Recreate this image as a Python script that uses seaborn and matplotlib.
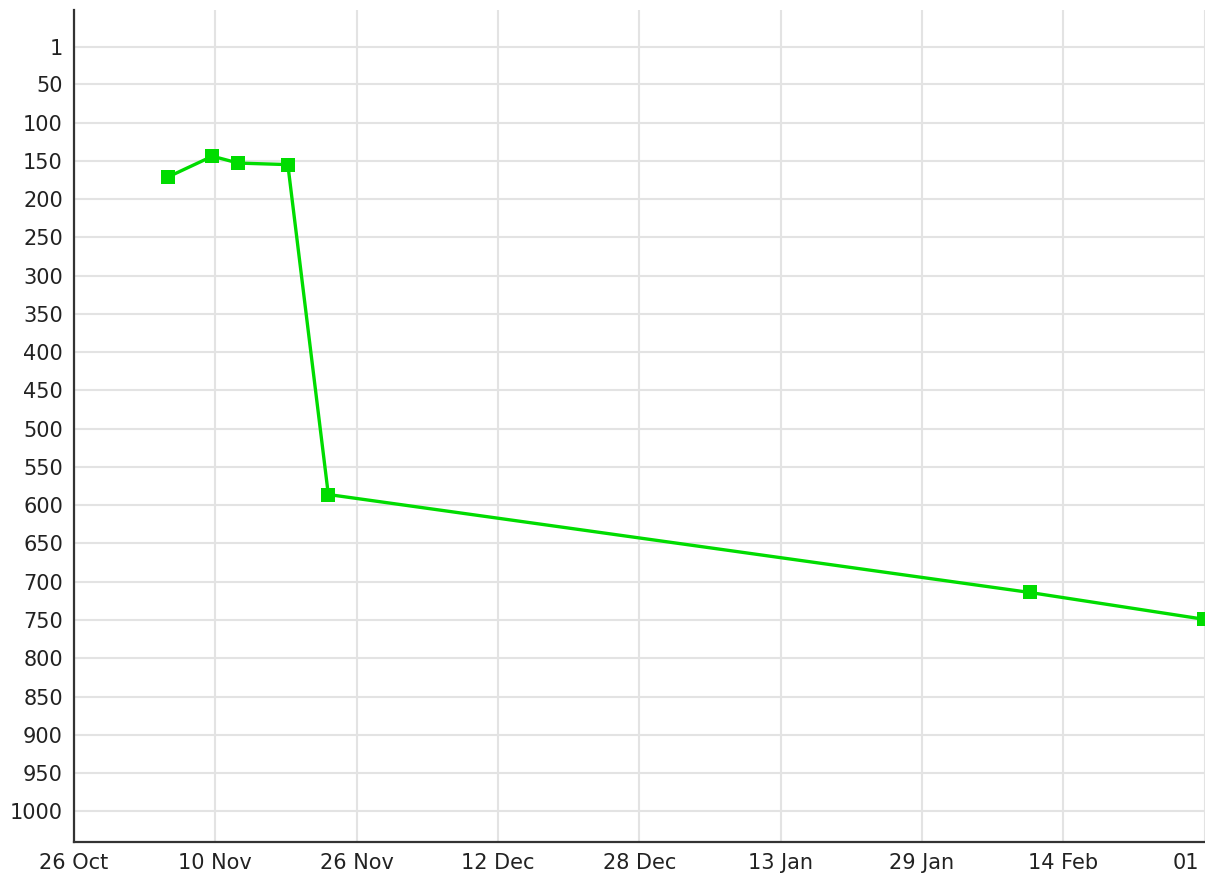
import pandas as pd
import matplotlib
matplotlib.use('Agg')
import matplotlib.pyplot as plt
import matplotlib.transforms as mtransforms
import seaborn as sns

# positions
dates = ['2011-11-04 16:00', '2011-11-09 16:00', '2011-11-12 14:00', '2011-11-18 05:00',
         '2011-11-22 19:00', '2012-02-10 05:00', '2012-02-29 22:00']
ranks = [171, 144, 153, 155, 586, 714, 749]

tick_dates = ['2011-10-25', '2011-11-10', '2011-11-26', '2011-12-12', '2011-12-28',
              '2012-01-13', '2012-01-29', '2012-02-14', '2012-03-01']
tick_labels = ['26 Oct', '10 Nov', '26 Nov', '12 Dec', '28 Dec', '13 Jan', '29 Jan', '14 Feb', '01']
rank_ticks = [1] + list(range(50, 1001, 50))

df = pd.DataFrame({'date': pd.to_datetime(dates), 'rank': ranks})

sns.set_style('white')
plt.rcParams['font.family'] = ['DejaVu Sans']

fig = plt.figure(figsize=(12.05, 8.8), dpi=100)
ax = fig.add_axes([74 / 1205, 38 / 880, 1 - 74 / 1205, (842 - 10) / 880])

sns.lineplot(data=df, x='date', y='rank', ax=ax, color='#00dc00', linewidth=2.4,
             marker='s', markersize=10, markeredgewidth=0, clip_on=False)

ax.set_xlim(pd.Timestamp('2011-10-25'), pd.Timestamp('2012-03-01 01:00'))
ax.set_ylim(1040, -47)
ax.set_xticks(pd.to_datetime(tick_dates))
ax.set_xticklabels(tick_labels)
ax.set_yticks(rank_ticks)
ax.set_yticklabels([str(v) for v in rank_ticks])

ax.grid(True, color='#e3e3e3', linewidth=1.5)
ax.set_axisbelow(True)
ax.tick_params(axis='both', length=0, labelsize=15, colors='#222222', pad=8)
ax.set_xlabel('')
ax.set_ylabel('')

# last date label sits against the right edge
last = ax.get_xticklabels()[-1]
last.set_horizontalalignment('right')
last.set_transform(last.get_transform() + mtransforms.ScaledTranslation(-6 / 100, 0, fig.dpi_scale_trans))

for side in ['top', 'right']:
    ax.spines[side].set_visible(False)
for side in ['left', 'bottom']:
    ax.spines[side].set_color('#333333')
    ax.spines[side].set_linewidth(1.6)

fig.savefig('out.png', dpi=100)
